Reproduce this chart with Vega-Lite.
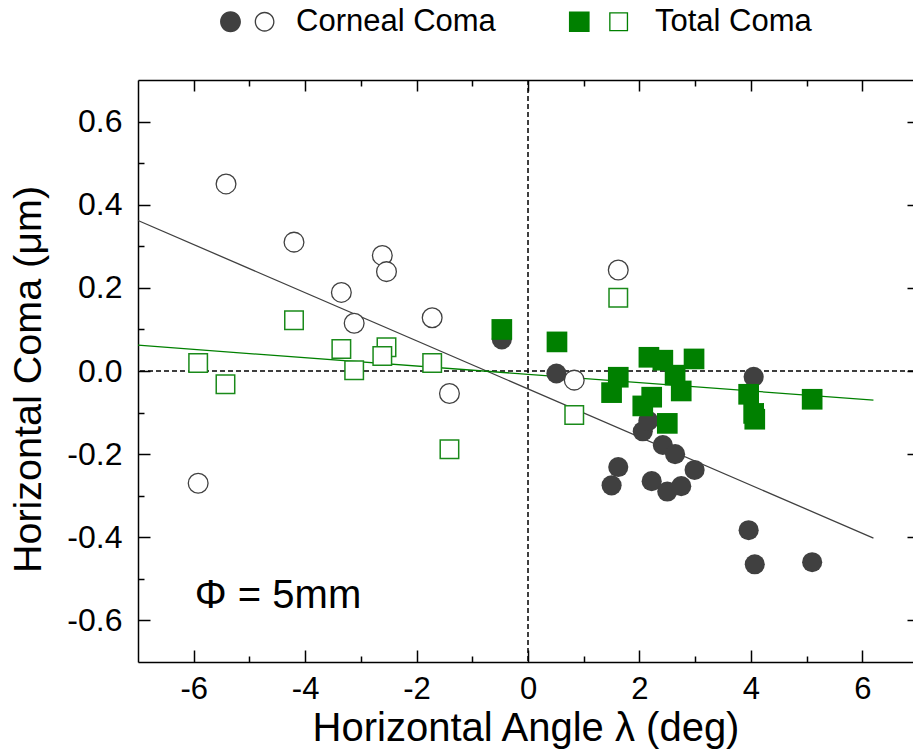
{
  "$schema": "https://vega.github.io/schema/vega-lite/v6.json",
  "width": 775,
  "height": 582,
  "autosize": {"type": "none"},
  "padding": {"left": 138, "top": 80, "right": 0, "bottom": 90},
  "background": "white",
  "config": {
    "view": {"stroke": null},
    "font": "Liberation Sans",
    "axis": {
      "grid": false,
      "labelColor": "black",
      "tickColor": "black",
      "domainColor": "black",
      "titleColor": "black",
      "labelFont": "Liberation Sans",
      "titleFont": "Liberation Sans",
      "titleFontWeight": "normal",
      "tickWidth": 1.5,
      "domainWidth": 1.5,
      "labelFlush": false,
      "labelOverlap": false
    }
  },
  "datasets": {
    "corneal_filled": [
      {"angle": -0.47, "coma": 0.076},
      {"angle": 0.51, "coma": -0.006},
      {"angle": 1.50, "coma": -0.275},
      {"angle": 1.62, "coma": -0.231},
      {"angle": 2.06, "coma": -0.145},
      {"angle": 2.16, "coma": -0.12},
      {"angle": 2.22, "coma": -0.265},
      {"angle": 2.42, "coma": -0.178},
      {"angle": 2.50, "coma": -0.29},
      {"angle": 2.64, "coma": -0.200},
      {"angle": 2.75, "coma": -0.277},
      {"angle": 2.99, "coma": -0.238},
      {"angle": 3.96, "coma": -0.383},
      {"angle": 4.05, "coma": -0.014},
      {"angle": 4.07, "coma": -0.465},
      {"angle": 5.10, "coma": -0.46}
    ],
    "corneal_open": [
      {"angle": -5.92, "coma": -0.27},
      {"angle": -5.42, "coma": 0.45},
      {"angle": -4.20, "coma": 0.31},
      {"angle": -3.35, "coma": 0.189},
      {"angle": -3.12, "coma": 0.115},
      {"angle": -2.615, "coma": 0.278},
      {"angle": -2.54, "coma": 0.239},
      {"angle": -1.72, "coma": 0.128},
      {"angle": -1.41, "coma": -0.054},
      {"angle": 0.83, "coma": -0.022},
      {"angle": 1.62, "coma": 0.243}
    ],
    "total_filled": [
      {"angle": -0.47, "coma": 0.100},
      {"angle": 0.52, "coma": 0.070},
      {"angle": 1.50, "coma": -0.052},
      {"angle": 1.62, "coma": -0.015},
      {"angle": 2.06, "coma": -0.084},
      {"angle": 2.17, "coma": 0.033},
      {"angle": 2.22, "coma": -0.063},
      {"angle": 2.42, "coma": 0.026},
      {"angle": 2.50, "coma": -0.126},
      {"angle": 2.64, "coma": -0.010},
      {"angle": 2.75, "coma": -0.048},
      {"angle": 2.98, "coma": 0.029},
      {"angle": 3.96, "coma": -0.056},
      {"angle": 4.05, "coma": -0.102},
      {"angle": 4.07, "coma": -0.116},
      {"angle": 5.10, "coma": -0.068}
    ],
    "total_open": [
      {"angle": -5.92, "coma": 0.019},
      {"angle": -5.43, "coma": -0.032},
      {"angle": -4.20, "coma": 0.122},
      {"angle": -3.35, "coma": 0.053},
      {"angle": -3.12, "coma": 0.002},
      {"angle": -2.54, "coma": 0.057},
      {"angle": -2.615, "coma": 0.036},
      {"angle": -1.72, "coma": 0.019},
      {"angle": -1.41, "coma": -0.188},
      {"angle": 0.83, "coma": -0.106},
      {"angle": 1.62, "coma": 0.176}
    ],
    "fit_corneal": [
      {"angle": -7.0, "coma": 0.362},
      {"angle": 6.2, "coma": -0.402}
    ],
    "fit_total": [
      {"angle": -7.0, "coma": 0.062},
      {"angle": 6.2, "coma": -0.070}
    ]
  },
  "resolve": {"axis": {"x": "independent", "y": "independent"}},
  "layer": [
    {
      "data": {"values": [{"v": 0}]},
      "mark": {"type": "rule", "color": "black", "strokeWidth": 1.5, "strokeDash": [5, 3]},
      "encoding": {
        "x": {"field": "v", "type": "quantitative", "scale": {"domain": [-7, 6.91], "nice": false, "zero": false}, "axis": null}
      }
    },
    {
      "data": {"values": [{"v": 0}]},
      "mark": {"type": "rule", "color": "black", "strokeWidth": 1.5, "strokeDash": [5, 3]},
      "encoding": {
        "y": {"field": "v", "type": "quantitative", "scale": {"domain": [-0.7, 0.7], "nice": false, "zero": false}, "axis": null}
      }
    },
    {
      "data": {"name": "fit_corneal"},
      "mark": {"type": "line", "color": "#404040", "strokeWidth": 1.3},
      "encoding": {
        "x": {"field": "angle", "type": "quantitative", "scale": {"domain": [-7, 6.91], "nice": false, "zero": false},
          "axis": {"orient": "bottom", "values": [-6, -4, -2, 0, 2, 4, 6], "ticks": false, "domain": true, "labelFontSize": 31, "labelPadding": 12,
            "labelExpr": "(datum.value < 0 ? '-' : '') + abs(datum.value)", "title": "Horizontal Angle λ (deg)", "titleFontSize": 40, "titlePadding": 4}},
        "y": {"field": "coma", "type": "quantitative", "scale": {"domain": [-0.7, 0.7], "nice": false, "zero": false},
          "axis": {"orient": "left", "values": [-0.6, -0.4, -0.2, 0, 0.2, 0.4, 0.6], "ticks": false, "domain": true, "labelFontSize": 32, "labelPadding": 16,
            "labelExpr": "(datum.value < 0 ? '-' : '') + format(abs(datum.value), '.1f')", "title": "Horizontal Coma (μm)", "titleFontSize": 39.5, "titlePadding": 18, "titleY": 299}}
      }
    },
    {
      "data": {"name": "fit_total"},
      "mark": {"type": "line", "color": "#008000", "strokeWidth": 1.3},
      "encoding": {
        "x": {"field": "angle", "type": "quantitative", "scale": {"domain": [-7, 6.91], "nice": false, "zero": false},
          "axis": {"orient": "bottom", "values": [-6, -4, -2, 0, 2, 4, 6], "labels": false, "domain": false, "tickSize": -12, "title": null}},
        "y": {"field": "coma", "type": "quantitative", "scale": {"domain": [-0.7, 0.7], "nice": false, "zero": false},
          "axis": {"orient": "left", "values": [-0.6, -0.4, -0.2, 0, 0.2, 0.4, 0.6], "labels": false, "domain": false, "tickSize": -12, "title": null}}
      }
    },
    {
      "data": {"name": "corneal_filled"},
      "mark": {"type": "point", "shape": "circle", "filled": true, "color": "#404040", "opacity": 1, "size": 405, "strokeWidth": 0},
      "encoding": {
        "x": {"field": "angle", "type": "quantitative", "scale": {"domain": [-7, 6.91], "nice": false, "zero": false},
          "axis": {"orient": "bottom", "values": [-5, -3, -1, 1, 3, 5], "labels": false, "domain": false, "tickSize": -6, "title": null}},
        "y": {"field": "coma", "type": "quantitative", "scale": {"domain": [-0.7, 0.7], "nice": false, "zero": false},
          "axis": {"orient": "left", "values": [-0.5, -0.3, -0.1, 0.1, 0.3, 0.5], "labels": false, "domain": false, "tickSize": -6, "title": null}}
      }
    },
    {
      "data": {"name": "corneal_open"},
      "mark": {"type": "point", "shape": "circle", "filled": true, "fill": "white", "stroke": "#404040", "strokeWidth": 1.3, "opacity": 1, "size": 390},
      "encoding": {
        "x": {"field": "angle", "type": "quantitative", "scale": {"domain": [-7, 6.91], "nice": false, "zero": false},
          "axis": {"orient": "top", "values": [-6, -4, -2, 0, 2, 4, 6], "labels": false, "domain": true, "tickSize": -11, "title": null}},
        "y": {"field": "coma", "type": "quantitative", "scale": {"domain": [-0.7, 0.7], "nice": false, "zero": false},
          "axis": {"orient": "right", "values": [-0.6, -0.4, -0.2, 0, 0.2, 0.4, 0.6], "labels": false, "domain": false, "tickSize": -6, "title": null}}
      }
    },
    {
      "data": {"name": "total_open"},
      "mark": {"type": "point", "shape": "square", "filled": true, "fill": "white", "stroke": "#1a8a1a", "strokeWidth": 1.5, "opacity": 1, "size": 342},
      "encoding": {
        "x": {"field": "angle", "type": "quantitative", "scale": {"domain": [-7, 6.91], "nice": false, "zero": false},
          "axis": {"orient": "top", "values": [-5, -3, -1, 1, 3, 5], "labels": false, "domain": false, "tickSize": -6, "title": null}},
        "y": {"field": "coma", "type": "quantitative", "scale": {"domain": [-0.7, 0.7], "nice": false, "zero": false}, "axis": null}
      }
    },
    {
      "data": {"name": "total_filled"},
      "mark": {"type": "point", "shape": "square", "filled": true, "color": "#008000", "opacity": 1, "size": 428, "strokeWidth": 0},
      "encoding": {
        "x": {"field": "angle", "type": "quantitative", "scale": {"domain": [-7, 6.91], "nice": false, "zero": false}, "axis": null},
        "y": {"field": "coma", "type": "quantitative", "scale": {"domain": [-0.7, 0.7], "nice": false, "zero": false}, "axis": null}
      }
    },
    {
      "data": {"values": [{"angle": -5.98, "coma": -0.57, "label": "Φ = 5mm"}]},
      "mark": {"type": "text", "align": "left", "baseline": "alphabetic", "fontSize": 40, "font": "Liberation Sans", "color": "black"},
      "encoding": {
        "x": {"field": "angle", "type": "quantitative", "scale": {"domain": [-7, 6.91], "nice": false, "zero": false}, "axis": null},
        "y": {"field": "coma", "type": "quantitative", "scale": {"domain": [-0.7, 0.7], "nice": false, "zero": false}, "axis": null},
        "text": {"field": "label"}
      }
    },
    {
      "data": {"values": [{"series": "Corneal Coma"}, {"series": "Total Coma"}]},
      "mark": {"type": "point", "filled": true, "opacity": 0, "fill": {"expr": "(datum.value === 'Total Coma' || datum.series === 'Total Coma') ? '#008000' : '#404040'"}},
      "encoding": {
        "shape": {
          "field": "series",
          "type": "nominal",
          "scale": {
            "domain": ["Corneal Coma", "Total Coma"],
            "range": [
              "M-0.95,0A0.95,0.95,0,1,1,0.95,0A0.95,0.95,0,1,1,-0.95,0ZM2.2,0A0.9,0.9,0,1,1,4.0,0A0.9,0.9,0,1,1,2.2,0ZM2.32,0A0.78,0.78,0,1,0,3.88,0A0.78,0.78,0,1,0,2.32,0Z",
              "M-1.87,-0.94H0.01V0.94H-1.87ZM1.79,-0.86H3.51V0.86H1.79ZM1.91,-0.74V0.74H3.39V-0.74Z"
            ]
          },
          "legend": {
            "title": null,
            "orient": "none",
            "legendX": 77,
            "legendY": -74,
            "direction": "horizontal",
            "padding": 0,
            "symbolSize": 484,
            "symbolStrokeWidth": 0,
            "symbolOpacity": 1,
            "labelFont": "Liberation Sans",
            "labelFontSize": 31,
            "labelColor": "black",
            "labelLimit": 0,
            "labelOffset": 50,
            "columnPadding": 72,
            "encode": {
              "symbols": {
                "fill": {"value": {"expr": "datum.value === 'Total Coma' ? '#008000' : '#404040'"}}
              }
            }
          }
        }
      }
    }
  ]
}
